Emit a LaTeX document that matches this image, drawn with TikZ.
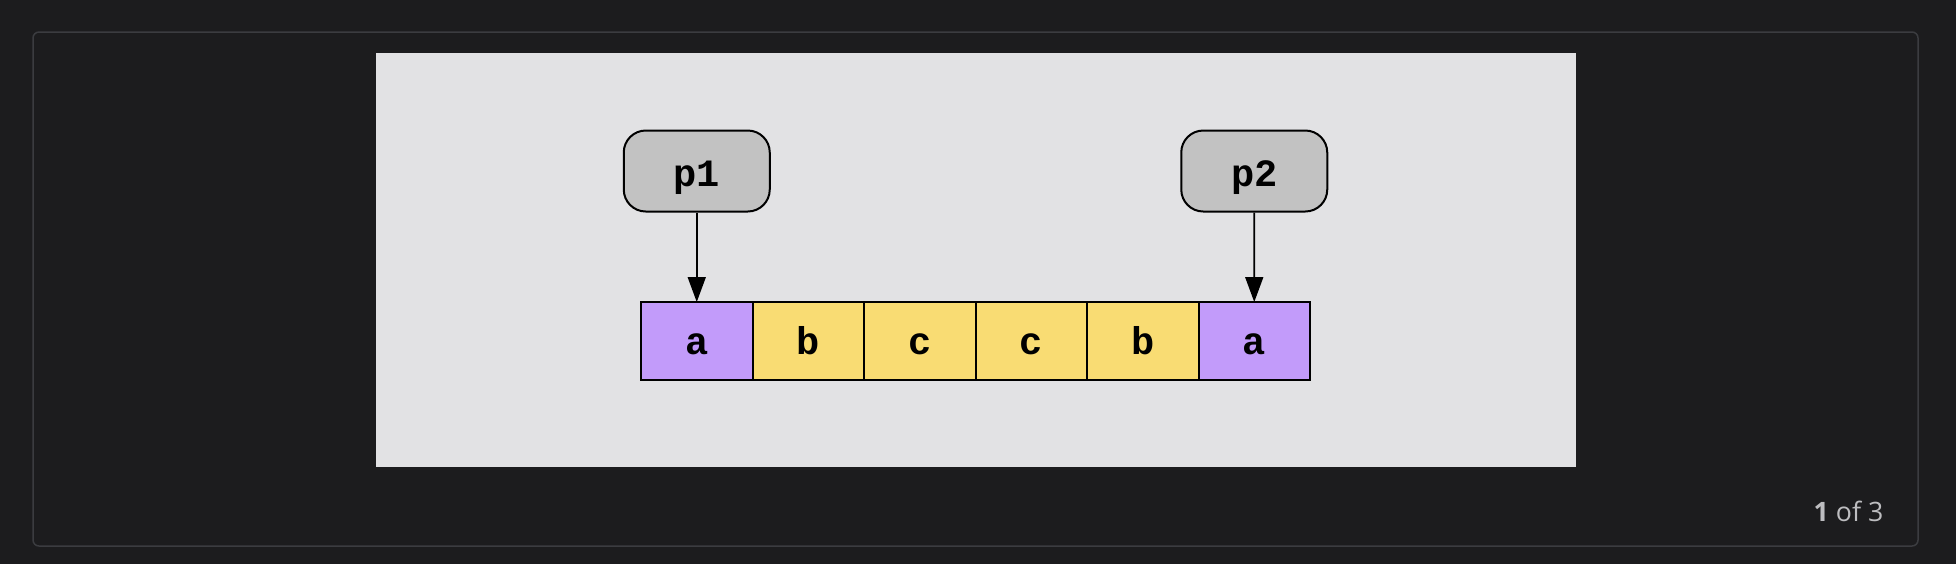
\documentclass[tikz,border=0pt]{standalone}
\usepackage{fontspec}
\setmonofont{Liberation Mono}
\newfontfamily\pagerfont{Open Sans}
\usetikzlibrary{positioning,arrows.meta}
\definecolor{pagebg}{HTML}{1C1C1E}
\definecolor{framegray}{HTML}{3B3C40}
\definecolor{panelgray}{HTML}{E2E2E4}
\definecolor{ptrgray}{HTML}{C2C2C2}
\definecolor{lilac}{HTML}{C29BFA}
\definecolor{sand}{HTML}{F9DC73}
\definecolor{pagertext}{HTML}{BDBDC0}
\tikzset{
        cell/.style={rectangle, draw=black, line width=0.2mm, outer sep=0pt, inner sep=0pt,
          minimum width=11.15mm, minimum height=7.8mm, text height=7.8pt, text depth=0pt,
          font=\ttfamily\bfseries\fontsize{11}{13}\selectfont},
        endcell/.style={cell, fill=lilac},
        midcell/.style={cell, fill=sand},
        ptr/.style={rectangle, rounded corners=2.2mm, draw=black, line width=0.2mm, fill=ptrgray, inner sep=0pt,
          minimum width=14.6mm, minimum height=8.1mm, text height=8.8pt, text depth=0pt,
          font=\ttfamily\bfseries\fontsize{11}{13}\selectfont},
        ptrarrow/.style={-{Triangle[length=2.5mm,width=1.8mm]}, line width=0.17mm},
        pager/.style={text=pagertext, inner sep=0pt, font=\pagerfont\fontsize{7.6}{9}\selectfont}
          }
\begin{document}
\begin{tikzpicture}[x=0.1mm, y=-0.1mm]
        \fill[pagebg] (0,0) rectangle (1956,564);
        \draw[framegray, line width=0.15mm, rounded corners=0.6mm] (33,32) rectangle (1918,546);
        \fill[panelgray] (376,53) rectangle (1576,467);
        % the string
        \node[endcell] (c1) at (696.75,341) {a};
        \node[midcell, right=0pt of c1] (c2) {b};
        \node[midcell, right=0pt of c2] (c3) {c};
        \node[midcell, right=0pt of c3] (c4) {c};
        \node[midcell, right=0pt of c4] (c5) {b};
        \node[endcell, right=0pt of c5] (c6) {a};
        % the two pointers
        \node[ptr] (p1) at (696.75,171) {p1};
        \node[ptr] (p2) at (1254.25,171) {p2};
        \draw[ptrarrow] (p1) -- (c1);
        \draw[ptrarrow] (p2) -- (c6);
        \node[pager, anchor=base east] (count) at (1884,521) {\textbf{1} of 3};
      \end{tikzpicture}
\end{document}
